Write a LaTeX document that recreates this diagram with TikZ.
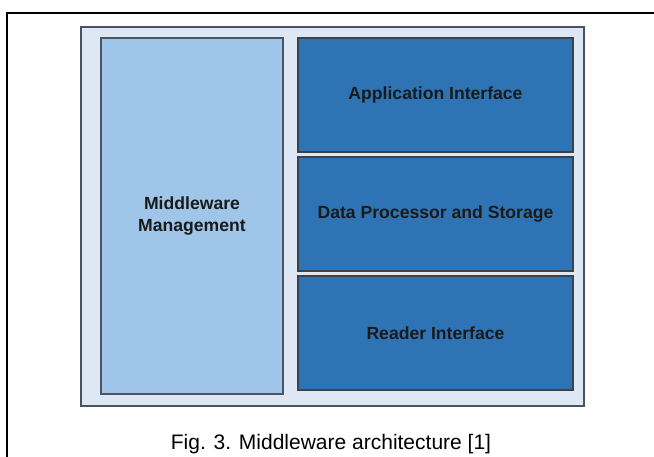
\documentclass[tikz,border=0pt]{standalone}
\usepackage{fontspec}
\setmainfont{Liberation Sans}
\usetikzlibrary{positioning}

\definecolor{panelfill}{HTML}{DEE8F4}
\definecolor{mgmtfill}{HTML}{9FC5E8}
\definecolor{layerfill}{HTML}{2E74B5}
\definecolor{edgegray}{HTML}{4A5360}
\definecolor{labelink}{HTML}{1A1A1A}

\begin{document}
\begin{tikzpicture}[
    x = 1pt, y = -1pt, % pixel grid, y going down
    node distance = 5pt, % gap between stacked layers
    outer sep = 0pt,
    every node/.style = {font=\bfseries\fontsize{17.6}{22}\selectfont, text=labelink}
    ]

    \tikzset{
    panel/.style = {draw = edgegray, line width = 1.4pt, fill = panelfill},
    mgmtbox/.style = {draw = edgegray, line width = 1.4pt, fill = mgmtfill,
        minimum width = 182pt, minimum height = 356pt, align = center},
    layer/.style = {draw = edgegray!80!black, line width = 1.4pt, fill = layerfill,
        minimum width = 275pt, minimum height = 114pt}
    }
    \useasboundingbox (0,0) rectangle (654,457);

    % frame round the figure
    \coordinate (fbl) at (7,457);
    \coordinate (ftl) at (7,13);
    \coordinate (ftr) at (654,13);
    \draw[line width = 2pt] (fbl) -- (ftl) -- (ftr);

    \node[panel, minimum width = 503pt, minimum height = 379pt, anchor = north west] (panel) at (81,27) {};
    \node[mgmtbox, anchor = north west] (mgmt) at (101,38) {Middleware\\Management};
    \node[layer, anchor = north west] (app) [right=15pt of mgmt.north east, anchor = north west] {Application Interface};
    \node[layer] (dp) [below=of app] {Data Processor and Storage};
    \node[layer] (ri) [below=of dp] {Reader Interface};

    \node[font = \fontsize{21}{24}\selectfont, text = black, anchor = base] (cap) at (331,449) {Fig. 3. Middleware architecture [1]};
\end{tikzpicture}
\end{document}
